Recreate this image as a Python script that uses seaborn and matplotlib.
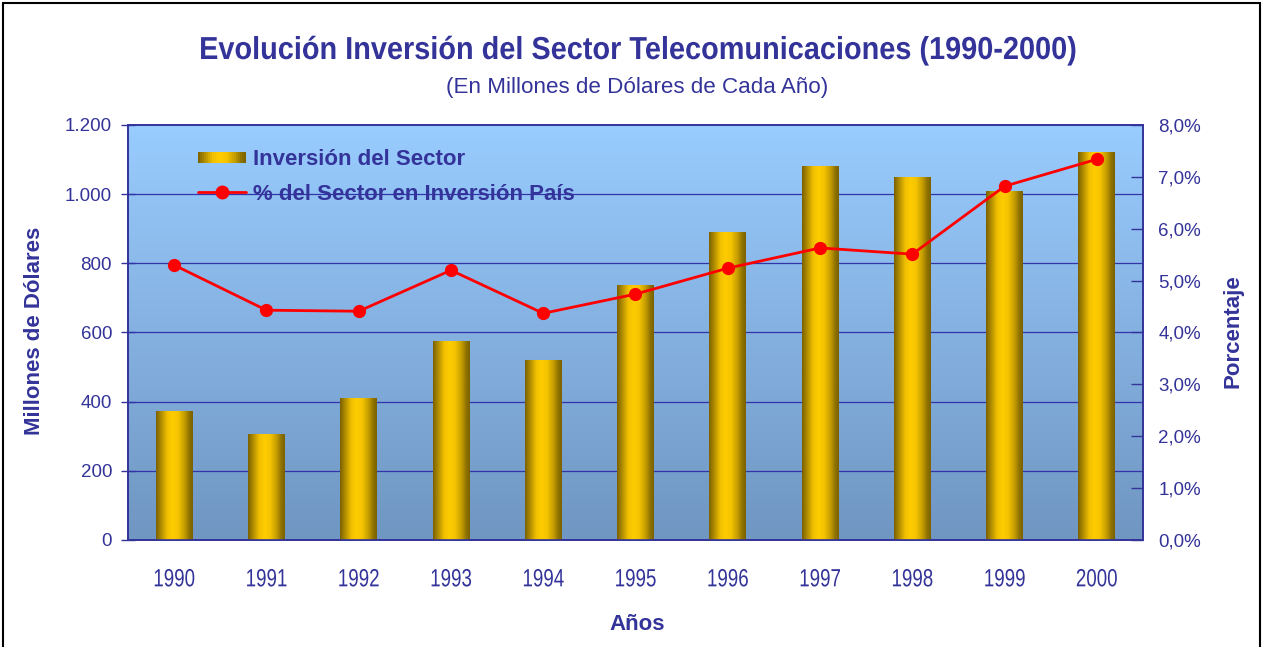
import numpy as np
import pandas as pd
import matplotlib
matplotlib.use("Agg")
import matplotlib.pyplot as plt
import seaborn as sns
from matplotlib.colors import LinearSegmentedColormap
from matplotlib.legend_handler import HandlerBase
from matplotlib.patches import Rectangle
from matplotlib.lines import Line2D
from matplotlib.patheffects import AbstractPathEffect
from matplotlib.transforms import Affine2D

years = ["1990", "1991", "1992", "1993", "1994", "1995", "1996", "1997", "1998", "1999", "2000"]
inversion = [373, 306, 411, 575, 520, 737, 891, 1081, 1050, 1009, 1122]
porcentaje = [5.30, 4.43, 4.41, 5.20, 4.37, 4.74, 5.24, 5.63, 5.51, 6.82, 7.34]
left_ticks = [0, 200, 400, 600, 800, 1000, 1200]
left_labels = ["0", "200", "400", "600", "800", "1.000", "1.200"]
right_ticks = [0, 1, 2, 3, 4, 5, 6, 7, 8]
right_labels = ["0,0%", "1,0%", "2,0%", "3,0%", "4,0%", "5,0%", "6,0%", "7,0%", "8,0%"]

NAVY = "#333399"
sns.set_theme(style="white")
plt.rcParams["font.family"] = ["Liberation Sans", "DejaVu Sans"]


class Stretch(AbstractPathEffect):
    """Stretch glyphs vertically (from the baseline)."""
    def __init__(self, sy):
        super().__init__()
        self.sy = sy

    def draw_path(self, renderer, gc, tpath, affine, rgbFace=None):
        renderer.draw_path(gc, tpath, Affine2D().scale(1, self.sy) + affine, rgbFace)


df = pd.DataFrame({"year": years, "inv": inversion, "pct": porcentaje})

fig = plt.figure(figsize=(12.63, 6.47), dpi=100)
ax = fig.add_axes([128/1263, 1-540/647, (1143-128)/1263, (540-125)/647])

# background gradient
bg = LinearSegmentedColormap.from_list("bg", ["#7096C2", "#99CCFF"])
grad = np.linspace(0, 1, 256).reshape(-1, 1)
ax.imshow(grad, aspect="auto", cmap=bg, origin="lower",
          extent=[-0.5, 10.5, 0, 1200], zorder=0)

sns.barplot(data=df, x="year", y="inv", ax=ax, color="#FFCC00", width=0.40,
            saturation=1, zorder=3, edgecolor="none")

gold = LinearSegmentedColormap.from_list(
    "gold", [(0.0, "#7A6100"), (0.12, "#A88600"), (0.3, "#F0BF00"),
             (0.45, "#FFCC00"), (0.6, "#F5C400"), (0.78, "#C29B00"),
             (0.9, "#8F7200"), (1.0, "#7A6100")])
hgrad = np.linspace(0, 1, 256).reshape(1, -1)
for p in list(ax.patches):
    x0, y0 = p.get_x(), p.get_y()
    w, h = p.get_width(), p.get_height()
    im = ax.imshow(hgrad, aspect="auto", cmap=gold,
                   extent=[x0, x0 + w, y0, y0 + h], zorder=4)
    im.set_clip_path(p)

TICK_FS = 13.5
LAB_FS = 16

ax.set_xlim(-0.5, 10.5)
ax.set_ylim(0, 1200)
ax.set_yticks(left_ticks)
ax.set_yticklabels(left_labels)
for y in left_ticks[1:-1]:
    ax.axhline(y, color="#3333AA", lw=0.9, zorder=2)
ax.set_xlabel("")
ax.set_ylabel("")
ax.set_xticks(range(len(years)))
ax.set_xticklabels(years)
ax.set_xticks(np.arange(-0.5, 11, 1), minor=True)
ax.tick_params(axis="x", which="major", length=0, pad=24, labelsize=TICK_FS, labelcolor=NAVY)
ax.tick_params(axis="x", which="minor", length=8, width=1, color=NAVY, direction="out")
ax.tick_params(axis="y", length=10, width=1, color=NAVY, direction="inout",
               labelsize=TICK_FS, labelcolor=NAVY, pad=6.5)
for s in ax.spines.values():
    s.set_color(NAVY)
    s.set_linewidth(1.2)

ax2 = ax.twinx()
sns.pointplot(data=df, x="year", y="pct", ax=ax2, color="#FF0000",
              markers="o", linewidth=2, markersize=8, zorder=6)
ax2.set_xlim(-0.5, 10.5)
ax2.set_ylim(0, 8)
ax2.set_yticks(right_ticks)
ax2.set_yticklabels(right_labels)
ax2.set_ylabel("")
ax2.set_xlabel("")
ax2.tick_params(axis="y", length=9, width=1, color=NAVY, direction="in",
                labelsize=TICK_FS, labelcolor=NAVY, pad=11)
for s in ax2.spines.values():
    s.set_color(NAVY)
    s.set_linewidth(1.2)
ax2.grid(False)
ax.grid(False)

for t in ax.get_xticklabels():
    t.set_path_effects([Stretch(1.33)])


class GradHandler(HandlerBase):
    def create_artists(self, legend, orig_handle, xdescent, ydescent, width,
                       height, fontsize, trans):
        n = 24
        arts = []
        for i in range(n):
            c = gold((i + 0.5) / n)
            r = Rectangle((-xdescent + width * i / n, -ydescent + height * 0.1),
                          width / n + 0.3, height * 0.75, facecolor=c,
                          edgecolor="none", transform=trans)
            arts.append(r)
        return arts


bar_proxy = Rectangle((0, 0), 1, 1)
line_proxy = Line2D([], [], color="#FF0000", lw=2, marker="o", markersize=9)
leg = ax2.legend([bar_proxy, line_proxy],
                 ["Inversión del Sector", "% del Sector en Inversión País"],
                 handler_map={Rectangle: GradHandler()},
                 loc="upper left", bbox_to_anchor=(70/1015, 1-24/415),
                 frameon=False, borderpad=0, borderaxespad=0,
                 handlelength=2.16, handletextpad=0.3, labelspacing=0.61,
                 prop={"weight": "bold", "size": LAB_FS})
for t in leg.get_texts():
    t.set_color(NAVY)

fig.text(637/1263, 1-59/647, "Evolución Inversión del Sector Telecomunicaciones (1990-2000)",
         ha="center", va="baseline", fontsize=20.8, fontweight="bold", color=NAVY,
         path_effects=[Stretch(1.1)])
fig.text(637/1263, 1-88/647, "(En Millones de Dólares de Cada Año)",
         ha="center", va="center", fontsize=16.1, color=NAVY)
fig.text(35/1263, 1-331/647, "Millones de Dólares", rotation=90,
         ha="center", va="center", fontsize=LAB_FS, fontweight="bold", color=NAVY)
fig.text(1233/1263, 1-331/647, "Porcentaje", rotation=90,
         ha="center", va="center", fontsize=LAB_FS, fontweight="bold", color=NAVY)
fig.text(637/1263, 1-625/647, "Años", ha="center", va="center",
         fontsize=LAB_FS, fontweight="bold", color=NAVY)

fig.patches.append(Rectangle((0.002, -0.01), 0.996, 1.006, transform=fig.transFigure,
                             fill=False, edgecolor="black", lw=1.5))

fig.savefig("out.png", dpi=100)
